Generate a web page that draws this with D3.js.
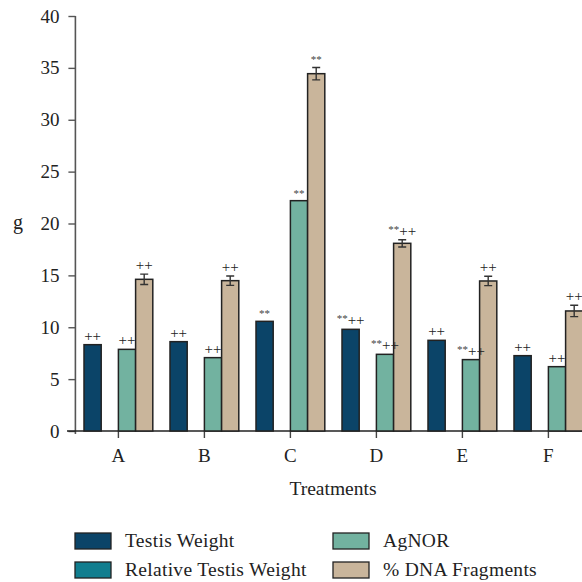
<!DOCTYPE html>
<html>
<head>
<meta charset="utf-8">
<script src="https://cdn.jsdelivr.net/npm/d3@7/dist/d3.min.js"></script>
<style>
  html, body { margin: 0; padding: 0; background: #fff; }
  svg { display: block; font-family: "Liberation Serif", "DejaVu Serif", serif; }
  svg text { font-family: "Liberation Serif", "DejaVu Serif", serif; }
</style>
</head>
<body>
<svg id="chart" width="582" height="582"></svg>
<script>
// Treatment groups
const categories = ["A", "B", "C", "D", "E", "F"];

// Series names and fill colours
const seriesNames = ["Testis Weight", "Relative Testis Weight", "AgNOR", "% DNA Fragments"];
const seriesColors = ["#0b4468", "#117e8f", "#72b2a0", "#c9b59b"];

// Values per treatment (A..F)
const testisWeight = [8.32, 8.61, 10.57, 9.80, 8.74, 7.26];
const relativeTestisWeight = [0, 0, 0, 0, 0, 0];
const agnor = [7.87, 7.07, 22.2, 7.39, 6.88, 6.20];
const dnaFragments = [14.62, 14.49, 34.44, 18.09, 14.46, 11.57];
const dnaError = [0.50, 0.45, 0.60, 0.35, 0.45, 0.55];

// Significance marks above each bar ("**" vs control, "++" vs C)
const testisMarks = [["", "++"], ["", "++"], ["**", ""], ["**", "++"], ["", "++"], ["", "++"]];
const agnorMarks = [["", "++"], ["", "++"], ["**", ""], ["**", "++"], ["**", "++"], ["", "++"]];
const dnaMarks = [["", "++"], ["", "++"], ["**", ""], ["**", "++"], ["", "++"], ["", "++"]];

// Axis ticks
const yTicks = [0, 5, 10, 15, 20, 25, 30, 35, 40];

const svg = d3.select("#chart");

const x0 = d3.scaleBand().domain(categories).range([75.4, 591.4])
  .paddingInner(0.2).paddingOuter(0.1);
const x1 = d3.scaleBand().domain(d3.range(4)).range([0, x0.bandwidth()]).padding(0);
const y = d3.scaleLinear().domain([0, 40]).range([431, 16]);

const seriesValues = [testisWeight, relativeTestisWeight, agnor, dnaFragments];
const seriesMarks = [testisMarks, null, agnorMarks, dnaMarks];

// Y axis
const yAxis = svg.append("g").attr("transform", "translate(75.4,0)")
  .call(d3.axisLeft(y).tickValues(yTicks).tickSize(7).tickPadding(9))
  .attr("font-size", 19).attr("font-family", null);
yAxis.select(".domain").attr("d", `M0,${y(40)}V434`).attr("stroke", "#555").attr("stroke-width", 1.6);
yAxis.selectAll(".tick line").attr("stroke", "#555").attr("stroke-width", 1.4);
yAxis.selectAll(".tick text").attr("fill", "#222");

// X axis
const xAxis = svg.append("g").attr("transform", `translate(0,${y(0)})`)
  .call(d3.axisBottom(x0).tickSize(7).tickPadding(11))
  .attr("font-size", 19).attr("font-family", null);
xAxis.select(".domain").attr("d", "M67,0H600").attr("stroke", "#222").attr("stroke-width", 1.4);
xAxis.selectAll(".tick line").attr("stroke", "#444").attr("stroke-width", 1.4);
xAxis.selectAll(".tick text").attr("fill", "#222");

// Bars
const groups = svg.append("g").selectAll("g").data(categories).join("g")
  .attr("transform", d => `translate(${x0(d)},0)`);

seriesValues.forEach((vals, s) => {
  groups.append("rect")
    .attr("x", x1(s))
    .attr("width", x1.bandwidth())
    .attr("y", (d, i) => y(vals[i]))
    .attr("height", (d, i) => y(0) - y(vals[i]))
    .attr("fill", seriesColors[s])
    .attr("stroke", vals === relativeTestisWeight ? "none" : "#222")
    .attr("stroke-width", 1.5);
});

// Error bars on DNA fragments
const cx = x1(3) + x1.bandwidth() / 2;
groups.each(function (d, i) {
  const g = d3.select(this);
  const top = y(dnaFragments[i] + dnaError[i]);
  const bot = y(dnaFragments[i] - dnaError[i]);
  g.append("path")
    .attr("d", `M${cx},${top}V${bot}M${cx - 4},${top}H${cx + 4}M${cx - 4},${bot}H${cx + 4}`)
    .attr("stroke", "#333").attr("stroke-width", 1.4).attr("fill", "none");
});

// Significance labels
seriesValues.forEach((vals, s) => {
  const marks = seriesMarks[s];
  if (!marks) return;
  groups.each(function (d, i) {
    const [star, plus] = marks[i];
    const top = s === 3 ? y(vals[i] + dnaError[i]) : y(vals[i]);
    const t = d3.select(this).append("text")
      .attr("x", x1(s) + x1.bandwidth() / 2)
      .attr("y", top - 4)
      .attr("text-anchor", "middle")
      .attr("fill", "#222");
    if (star) {
      t.append("tspan").text(star).attr("font-size", 11).attr("dy", plus ? -3 : 0).attr("fill", "#444");
    }
    if (plus) {
      t.append("tspan").text(plus).attr("font-size", 15).attr("dy", star ? 3 : 0);
    }
  });
});

// Axis titles
svg.append("text").attr("x", 18).attr("y", 229).attr("text-anchor", "middle")
  .attr("font-size", 20).attr("fill", "#222").text("g");
svg.append("text").attr("x", 333).attr("y", 495).attr("text-anchor", "middle")
  .attr("font-size", 19.5).attr("fill", "#222").text("Treatments");

// Legend
const legendPos = [[75, 533], [75, 562], [333, 533], [333, 562]];
const legendOrder = [0, 1, 2, 3];
const legend = svg.append("g").selectAll("g").data(legendOrder).join("g")
  .attr("transform", d => `translate(${legendPos[d][0]},${legendPos[d][1]})`);
legend.append("rect").attr("width", 36).attr("height", 16)
  .attr("fill", d => seriesColors[d]).attr("stroke", "#222").attr("stroke-width", 1.3);
legend.append("text").attr("x", 50).attr("y", 14).attr("font-size", 19.5)
  .attr("letter-spacing", 0.3).attr("fill", "#222")
  .text(d => seriesNames[d]);
</script>
</body>
</html>
